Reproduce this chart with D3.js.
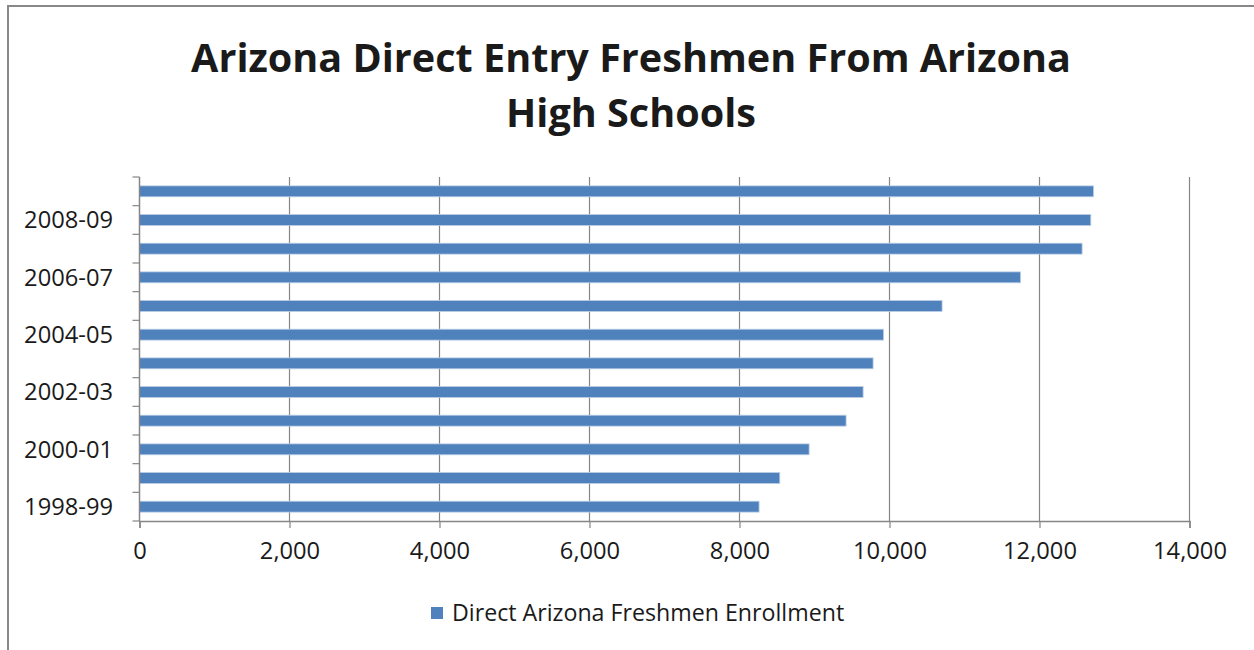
<!DOCTYPE html>
<html>
<head>
<meta charset="utf-8">
<script src="https://cdn.jsdelivr.net/npm/d3@7"></script>
<style>
  body { margin: 0; background: #fff; }
  text { font-family: "Open Sans", sans-serif; fill: #1a1a1a; }
</style>
</head>
<body>
<script>
// data
const years = ['1998-99', '1999-00', '2000-01', '2001-02', '2002-03', '2003-04',
  '2004-05', '2005-06', '2006-07', '2007-08', '2008-09', '2009-10']
const enrollment = [8261, 8537, 8928, 9421, 9648, 9781, 9920, 10701, 11747, 12568, 12684, 12720]
const xTicks = [0, 2000, 4000, 6000, 8000, 10000, 12000, 14000]
const titleLines = ['Arizona Direct Entry Freshmen From Arizona', 'High Schools']
const seriesName = 'Direct Arizona Freshmen Enrollment'

const W = 1254, H = 650
const plot = {left: 139.5, right: 1189.5, top: 177, bottom: 521}
const barColor = '#4f81bd'
const gridColor = '#868686'

const svg = d3.select('body').append('svg')
  .attr('width', W)
  .attr('height', H)

// outer chart frame (cut off on right and bottom)
svg.append('rect')
  .attr('x', 8).attr('y', 6)
  .attr('width', W + 20).attr('height', H + 20)
  .attr('fill', '#fff')
  .attr('stroke', '#888')
  .attr('stroke-width', 2)

// title
svg.append('text')
  .attr('text-anchor', 'middle')
  .attr('font-weight', 'bold')
  .attr('font-size', 39.6)
  .selectAll('tspan')
  .data(titleLines)
  .join('tspan')
  .attr('x', 631)
  .attr('y', (d, i) => 72 + i * 55)
  .text(d => d)

// scales
const x = d3.scaleLinear().domain([0, 14000]).range([plot.left, plot.right])
const y = d3.scaleBand()
  .domain(years.slice().reverse())
  .range([plot.top, plot.bottom])
  .paddingInner(0.62)
  .paddingOuter(0.31)

// vertical gridlines
svg.append('g')
  .selectAll('line')
  .data(xTicks.slice(1))
  .join('line')
  .attr('x1', d => x(d)).attr('x2', d => x(d))
  .attr('y1', plot.top).attr('y2', plot.bottom)
  .attr('stroke', gridColor)
  .attr('stroke-width', 1.2)

// bars
svg.append('g')
  .selectAll('rect')
  .data(years)
  .join('rect')
  .attr('x', x(0))
  .attr('y', d => y(d))
  .attr('width', (d, i) => x(enrollment[i]) - x(0))
  .attr('height', y.bandwidth())
  .attr('fill', barColor)
  .attr('stroke', '#b9cde5')
  .attr('stroke-width', 0.8)

// x axis
const xAxis = svg.append('g')
  .attr('transform', 'translate(0,' + plot.bottom + ')')
  .call(d3.axisBottom(x)
    .tickValues(xTicks)
    .tickFormat(d3.format(','))
    .tickSize(7)
    .tickPadding(14))
xAxis.select('.domain').attr('stroke', gridColor).attr('stroke-width', 1.5)
xAxis.selectAll('.tick line').attr('stroke', gridColor).attr('stroke-width', 1.2)
xAxis.selectAll('.tick text')
  .attr('font-size', 23.7)
  .attr('font-family', '"Open Sans", sans-serif')
  .attr('fill', '#1a1a1a')

// y axis: ticks on category boundaries, labels on every other year
const boundaries = d3.range(years.length + 1).map(i => plot.top + i * (plot.bottom - plot.top) / years.length)
const yAxis = svg.append('g')
yAxis.append('line')
  .attr('x1', plot.left).attr('x2', plot.left)
  .attr('y1', plot.top).attr('y2', plot.bottom)
  .attr('stroke', gridColor)
  .attr('stroke-width', 1.5)
yAxis.selectAll('.btick')
  .data(boundaries)
  .join('line')
  .attr('class', 'btick')
  .attr('x1', plot.left - 7).attr('x2', plot.left)
  .attr('y1', d => d).attr('y2', d => d)
  .attr('stroke', gridColor)
  .attr('stroke-width', 1.2)
yAxis.selectAll('text')
  .data(years.filter((d, i) => i % 2 === 0))
  .join('text')
  .attr('x', 113)
  .attr('y', d => y(d) + y.bandwidth() / 2)
  .attr('dy', '0.35em')
  .attr('text-anchor', 'end')
  .attr('font-size', 23.7)
  .text(d => d)

// legend
const legend = svg.append('g').attr('transform', 'translate(431,613)')
legend.append('rect')
  .attr('x', 0).attr('y', -6)
  .attr('width', 12).attr('height', 12)
  .attr('fill', barColor)
legend.append('text')
  .attr('x', 21)
  .attr('y', 8)
  .attr('font-size', 23.2)
  .text(seriesName)
</script>
</body>
</html>
